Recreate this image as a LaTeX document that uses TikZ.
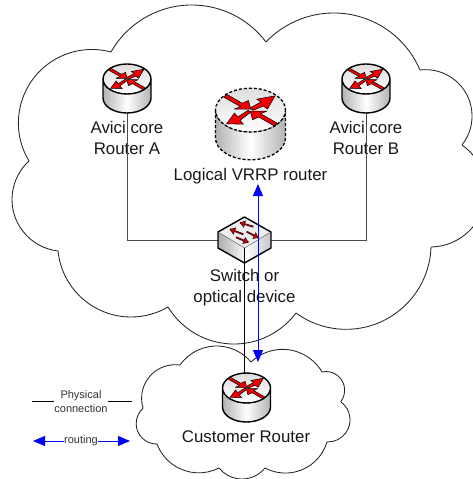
\documentclass[tikz,border=0pt]{standalone}
\usepackage{fontspec}
\setmainfont{Liberation Sans}
\usetikzlibrary{arrows.meta}
\definecolor{routeblue}{RGB}{0,0,255}
\definecolor{arrowred}{RGB}{240,0,0}
\tikzset{
  cloudline/.style={draw=black!85,line width=0.85pt},
  bigtext/.style={font=\fontsize{16.85}{19.6}\selectfont,text=black!90,align=center,inner sep=0pt},
  smalltext/.style={font=\fontsize{11}{14}\selectfont,text=black!80,align=center,inner sep=0pt},
  iconbox/.style={minimum width=#1,minimum height=#1,inner sep=0pt},
  graylink/.style={draw=black!70,line width=1pt},
  blacklink/.style={draw=black,line width=1pt},
  bluelink/.style={draw=routeblue,line width=0.9pt,{Triangle[length=12pt,width=10pt]}-{Triangle[length=12pt,width=10pt]}},
  blueend/.style={draw=routeblue,line width=0.9pt,-{Triangle[length=12pt,width=10pt]}},
  redarrow/.style={fill=arrowred,draw=black,line width=0.5pt,miter limit=3},
}
\newcommand\lobe[6]{%
  \pgfmathsetmacro\Ax{#1/100}\pgfmathsetmacro\Ay{-#2/100}%
  \pgfmathsetmacro\Px{#3/100}\pgfmathsetmacro\Py{-#4/100}%
  \pgfmathsetmacro\Bx{#5/100}\pgfmathsetmacro\By{-#6/100}%
  \pgfmathsetmacro\Sa{\Ax*\Ax+\Ay*\Ay}%
  \pgfmathsetmacro\Sp{\Px*\Px+\Py*\Py}%
  \pgfmathsetmacro\Sb{\Bx*\Bx+\By*\By}%
  \pgfmathsetmacro\Dd{2*(\Ax*(\Py-\By)+\Px*(\By-\Ay)+\Bx*(\Ay-\Py))}%
  \pgfmathsetmacro\Ux{(\Sa*(\Py-\By)+\Sp*(\By-\Ay)+\Sb*(\Ay-\Py))/\Dd}%
  \pgfmathsetmacro\Uy{(\Sa*(\Bx-\Px)+\Sp*(\Ax-\Bx)+\Sb*(\Px-\Ax))/\Dd}%
  \pgfmathsetmacro\Rr{100*sqrt((\Ax-\Ux)*(\Ax-\Ux)+(\Ay-\Uy)*(\Ay-\Uy))}%
  \pgfmathsetmacro\Ta{atan2(\Ay-\Uy,\Ax-\Ux)}%
  \pgfmathsetmacro\Tb{atan2(\By-\Uy,\Bx-\Ux)}%
  \pgfmathsetmacro\Tc{\Tb>\Ta ? \Tb-360 : \Tb}%
  \draw[cloudline] (#1,-#2) arc[start angle=\Ta,end angle=\Tc,radius=\Rr pt];%
}
\newcommand\routericon[4]{%
  \begin{scope}[shift={(#1.center)},scale=#2]
    \shade[left color=black!30,right color=black!30,middle color=white]
      (-24,9.5) -- (-24,-9.5) arc[start angle=180,end angle=360,x radius=24,y radius=15] -- (24,9.5)
      arc[start angle=0,end angle=180,x radius=24,y radius=15] -- cycle;
    \shade[top color=black!13,bottom color=white] (0,9.5) ellipse[x radius=24,y radius=15];
    \draw[#4] (-24,9.5) arc[start angle=180,end angle=360,x radius=24,y radius=15];
    \begin{scope}[shift={(0,9.5)}]
      \draw[redarrow] (-0.1,1.6)--(7.2,5.6)--(4.3,7.5)--(16.9,9.8)--(11.6,0.7)--(8.8,2.8)--(1.6,-0.2)--cycle;
      \draw[redarrow] (-1.5,0)--(-8.6,-4.6)--(-11,-2)--(-16.4,-9.4)--(-4.8,-9.6)--(-7.2,-7)--(0,-1.6)--cycle;
      \draw[redarrow] (-16.6,11)--(-5.65,4.75)--(-1.4,6.6)--(0.2,0.7)--(-11.2,.7)--(-6.95,2.45)--(-18,8.7)--cycle;
      \draw[redarrow] (16.6,-11)--(5.65,-4.75)--(1.4,-6.6)--(-0.2,-.7)--(11.2,-.7)--(6.95,-2.45)--(18,-8.7)--cycle;
    \end{scope}
    \draw[#3] (-24,9.5) -- (-24,-9.5) arc[start angle=180,end angle=360,x radius=24,y radius=15] -- (24,9.5)
      arc[start angle=0,end angle=360,x radius=24,y radius=15];
  \end{scope}%
}
\begin{document}
\begin{tikzpicture}[x=1pt,y=1pt]
\useasboundingbox (0,0) rectangle (473,-479);
\fill[white] (0,0) rectangle (473,-479);
\begin{scope}
\clip (0,0) rectangle (473,-479);
\lobe{111}{52}{190}{5}{266}{42}
\lobe{266}{42}{333}{13}{420}{70}
\lobe{420}{70}{472}{118}{462}{145}
\lobe{462}{145}{486}{190}{431}{247}
\lobe{431}{247}{400}{310}{296}{313}
\lobe{296}{313}{236}{344}{168}{307}
\lobe{168}{307}{130}{317}{58}{251}
\lobe{58}{251}{12}{198}{29}{161}
\lobe{29}{161}{33}{79}{111}{52}
\lobe{180}{365}{217}{346}{251}{362}
\lobe{251}{362}{290}{350}{322}{372}
\lobe{322}{372}{345}{390}{341}{402}
\lobe{341}{402}{350}{418}{327}{442}
\lobe{327}{442}{287}{473}{265}{468}
\lobe{265}{468}{243}{479}{219}{468}
\lobe{219}{468}{175}{466}{157}{444}
\lobe{157}{444}{136}{423}{143}{408}
\lobe{143}{408}{153}{373}{180}{365}
\end{scope}
\node[iconbox=48pt] (ra) at (127,-88.5) {};
\node[iconbox=48pt] (rb) at (366,-88.5) {};
\node[iconbox=48pt] (cust) at (246.5,-397.5) {};
\node[iconbox=70pt] (vrrp) at (250.5,-124) {};
\node[minimum width=53pt,minimum height=46pt,inner sep=0pt] (sw) at (244.5,-240) {};
\node[bigtext] (lra) at (127,-138) {Avici core\\[1pt]Router A};
\node[bigtext] (lrb) at (366,-138) {Avici core\\[1pt]Router B};
\node[bigtext,anchor=base] (lvr) at (250.5,-180) {Logical VRRP router};
\node[bigtext] (lsw) at (244.5,-287.5) {Switch or\\[1pt]optical device};
\node[bigtext,anchor=base] (lcu) at (246,-442) {Customer Router};
\node[smalltext] (lphys) at (81,-401.5) {Physical\\connection};
\node[smalltext] (lrout) at (81,-441) {routing};
\coordinate (pha) at (32,-401);
\coordinate (phb) at (132,-401);
\coordinate (roa) at (33,-441);
\coordinate (rob) at (130,-441);
\coordinate (blueup) at (258,-184);
\coordinate (bluedown) at (258,-362);
\draw[graylink] (ra.south) |- (sw.west);
\draw[graylink] (rb.south) |- (sw.east);
\draw[blacklink] (sw.south) -- (sw.south |- cust.north);
\draw[blacklink,line width=0.8pt] (pha) -- (lphys.west |- pha);
\draw[blacklink,line width=0.8pt] (phb) -- (lphys.east |- phb);
\draw[blueend] (lrout) -- (roa);
\draw[blueend] (lrout) -- (rob);
\routericon{ra}{1}{black,line width=1.4pt}{black,line width=0.4pt}
\routericon{rb}{1}{black,line width=1.4pt}{black,line width=0.4pt}
\routericon{cust}{1}{black,line width=1.4pt}{black,line width=0.4pt}
\routericon{vrrp}{1.46}{black,line width=1.3pt,dash pattern=on 3pt off 2pt}{black,line width=0.6pt,dash pattern=on 1pt off 1.2pt}
\begin{scope}[shift={(sw.center)}]
  \fill[black!7] (-26.5,8) -- (0,23) -- (26.5,8) -- (0,-8) -- cycle;
  \shade[left color=black!32,right color=black!3] (-26.5,8) -- (0,-8) -- (0,-23) -- (-26.5,-8) -- cycle;
  \shade[left color=white,right color=black!22] (26.5,8) -- (0,-8) -- (0,-23) -- (26.5,-8) -- cycle;
  \foreach \xa/\ya/\xb/\yb in {8.8/13.3/-4.5/17.3, -1.2/5.7/-14.5/10.7, 2.2/8.3/13.8/2.3, -8.5/2.7/3.8/-2.3}{
    \draw[black,line width=1.7pt] (\xa,\ya) -- (\xb,\yb);
    \draw[arrowred!80!black,line width=0.7pt] (\xa,\ya) -- (\xb,\yb);
    \fill[arrowred!85!black,draw=black,line width=0.3pt] (\xb,\yb) -- ++({(\xa-\xb)*0.35+(\ya-\yb)*0.25},{(\ya-\yb)*0.35-(\xa-\xb)*0.25}) -- ++({-(\ya-\yb)*0.5},{(\xa-\xb)*0.5}) -- cycle;
  }
  \draw[black,line width=1.4pt,line join=round] (-26.5,8) -- (0,23) -- (26.5,8) -- (26.5,-8) -- (0,-23) -- (-26.5,-8) -- cycle;
  \draw[black!70,line width=0.4pt] (-26.5,8) -- (0,-8) -- (26.5,8);
  \draw[black,line width=1pt] (0,-8) -- (0,-23);
\end{scope}
\draw[bluelink] (blueup) -- (bluedown);
\end{tikzpicture}
\end{document}
